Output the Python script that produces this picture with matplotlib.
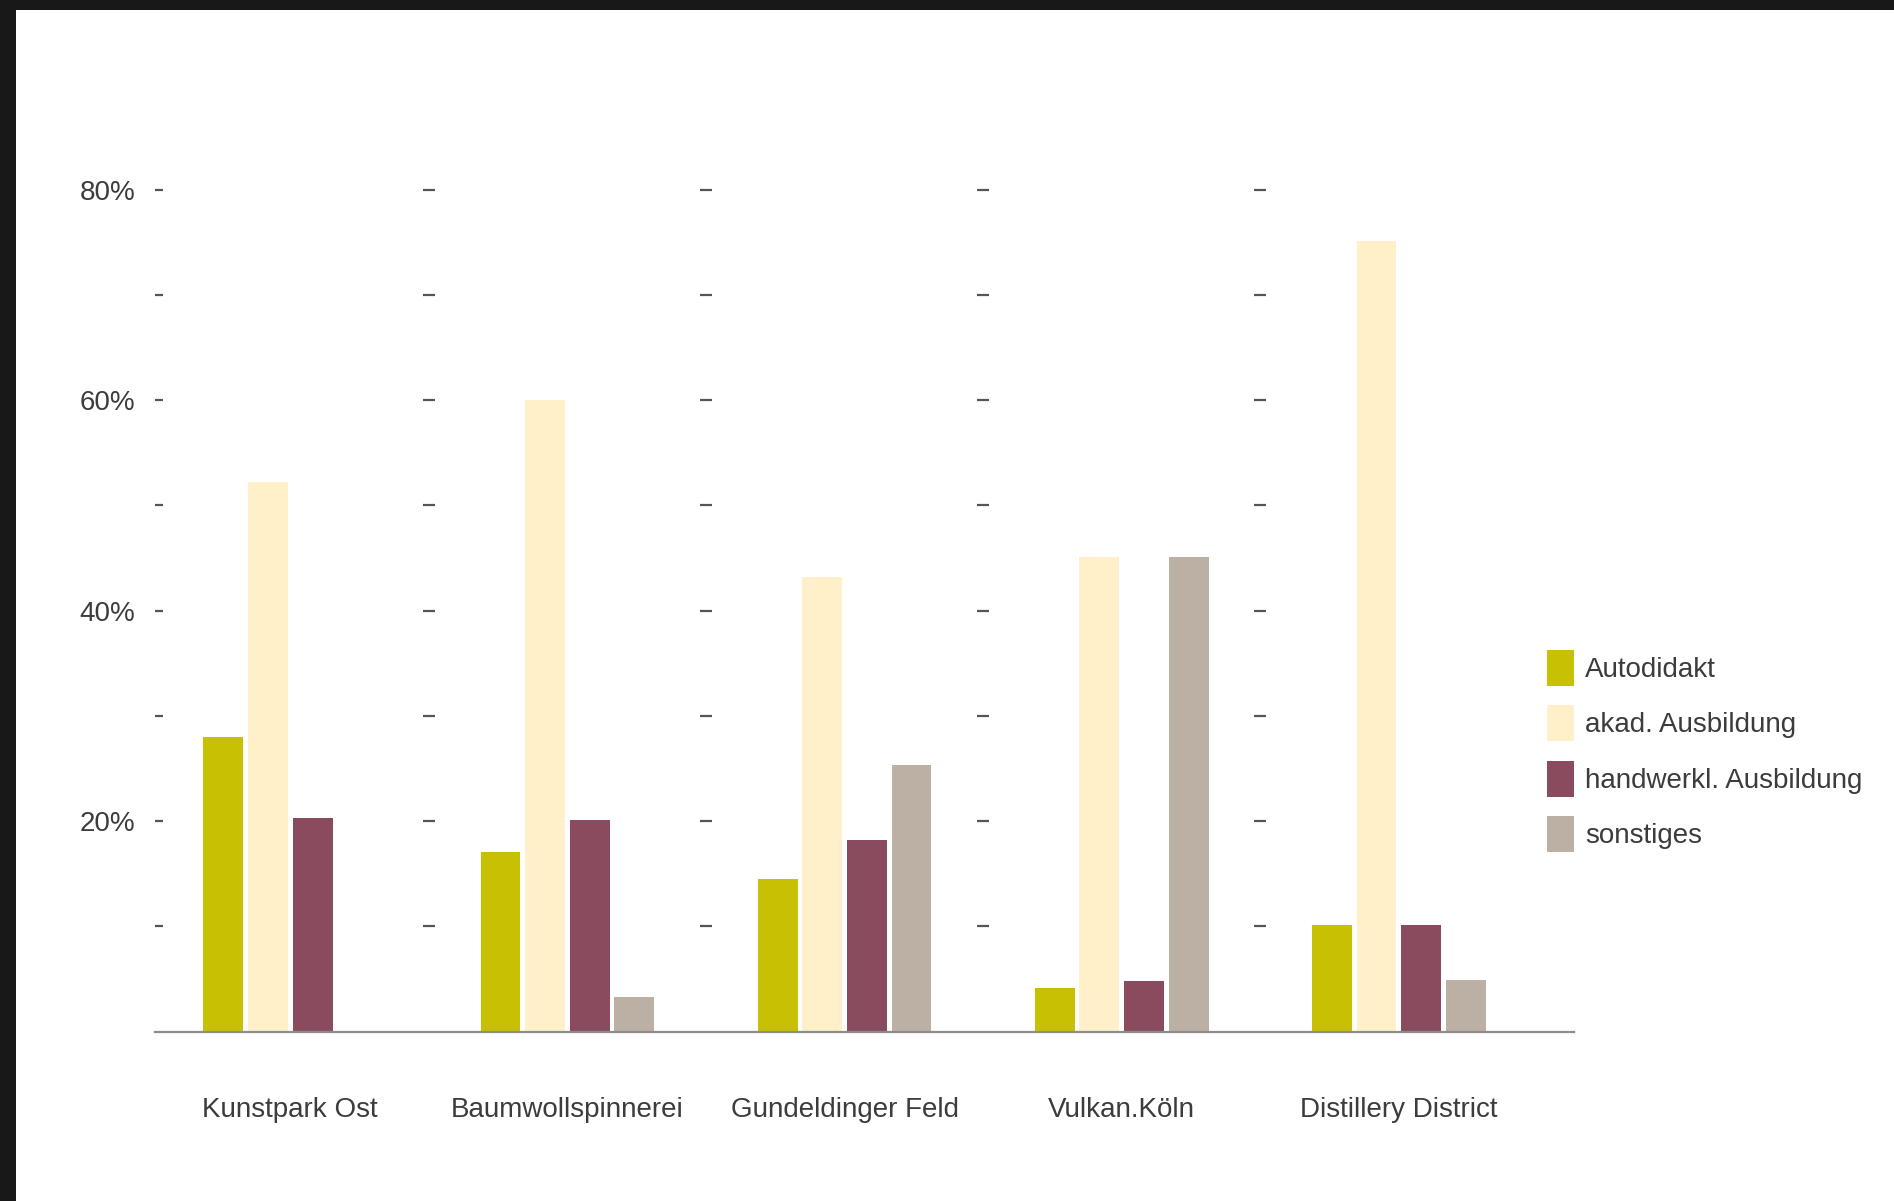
#!/usr/bin/env python
"""Ausbildung der Kreativen in fuenf Kreativquartieren, gruppierte Balken."""

import matplotlib

matplotlib.use("Agg")
import matplotlib.pyplot as plt
import numpy as np
from matplotlib import font_manager
from matplotlib.patches import Rectangle


QUARTERS = [
    "Kunstpark Ost",
    "Baumwollspinnerei",
    "Gundeldinger Feld",
    "Vulkan.Köln",
    "Distillery District",
]
SERIES = ["Autodidakt", "akad. Ausbildung", "handwerkl. Ausbildung", "sonstiges"]

# Anteile in Prozent
AUTODIDAKT = [28.0, 17.1, 14.5, 4.1, 10.1]
AKAD = [52.2, 60.0, 43.2, 45.1, 75.1]
HANDWERKL = [20.3, 20.1, 18.2, 4.8, 10.1]
SONSTIGES = [0.0, 3.3, 25.3, 45.1, 4.9]

COLORS = ["#c8c003", "#fff0c9", "#8a4b5f", "#bcafa3"]
MAJOR_TICKS = [20, 40, 60, 80]
MINOR_TICKS = [10, 30, 50, 70]

TEXT_COLOR = "#3c3c3c"


def pick_font() -> tuple[str, float]:
    names = {f.name for f in font_manager.fontManager.ttflist}
    if "Liberation Sans Narrow" in names:
        return "Liberation Sans Narrow", 24
    return "Liberation Sans", 20


def main() -> None:
    font, size = pick_font()
    plt.rcParams["font.family"] = [font, "DejaVu Sans"]
    W, H = 1894, 1201
    fig = plt.figure(figsize=(W / 100, H / 100), dpi=100, facecolor="#181818")
    # weisse Flaeche, dunkler Rand oben und links
    fig.patches.append(
        Rectangle((16 / W, 0), 1 - 16 / W, 1 - 10 / H, transform=fig.transFigure,
                  facecolor="white", edgecolor="none", zorder=-5)
    )

    ax = fig.add_axes([155 / W, 169.4 / H, (1574 - 155) / W, (1011.4 - 169.4) / H])
    ax.set_facecolor("none")
    ax.set_zorder(2)

    values = [AUTODIDAKT, AKAD, HANDWERKL, SONSTIGES]
    x = np.arange(len(QUARTERS))
    pitch = 0.161
    width = 0.144
    for i, (name, vals, color) in enumerate(zip(SERIES, values, COLORS)):
        ax.bar(x + (i - 1.5) * pitch, vals, width=width, color=color,
               label=name, zorder=2)

    # kurze Striche zwischen den Gruppen
    sep_x = x[:-1] + 0.5
    for y in MAJOR_TICKS + MINOR_TICKS:
        ax.plot(sep_x, [y] * len(sep_x), linestyle="none", marker="_",
                markersize=8, markeredgewidth=1.6, color="#555555", zorder=1,
                clip_on=False)

    ax.set_xlim(-0.488, 4.632)
    ax.set_ylim(0, 80)

    for side in ("left", "top", "right"):
        ax.spines[side].set_visible(False)
    ax.spines["bottom"].set_color("#8c8c8c")
    ax.spines["bottom"].set_linewidth(1.6)
    ax.spines["bottom"].set_zorder(3)

    ax.set_yticks(MAJOR_TICKS)
    ax.set_yticklabels([f"{v}%" for v in MAJOR_TICKS])
    ax.set_yticks(MINOR_TICKS, minor=True)
    ax.tick_params(axis="y", which="both", direction="in", length=6,
                   width=1.6, color="#555555", pad=14)
    ax.tick_params(axis="y", which="major", labelsize=size, labelcolor=TEXT_COLOR)

    ax.set_xticks(x)
    ax.set_xticklabels(QUARTERS)
    ax.tick_params(axis="x", length=0, pad=47, labelsize=size, labelcolor=TEXT_COLOR)

    leg = fig.legend(
        loc="upper left",
        bbox_to_anchor=(1547 / W, 1 - 650 / H),
        frameon=False,
        fontsize=size,
        handlelength=0.8 * 24 / size,
        handleheight=1.615 * 20 / size,
        handletextpad=0.4,
        labelspacing=0.7 * 20 / size,
        borderpad=0,
        borderaxespad=0,
    )
    for t in leg.get_texts():
        t.set_color(TEXT_COLOR)

    fig.savefig("out.png", dpi=100, facecolor=fig.get_facecolor())
    plt.close(fig)


if __name__ == "__main__":
    main()
